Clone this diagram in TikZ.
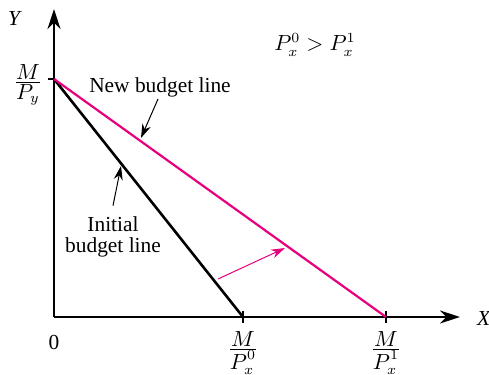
\documentclass[tikz,border=0pt]{standalone}
\usepackage{amsmath}
\usepackage{fontspec}
\setmainfont{Liberation Serif}
\usepackage{tikz}
\usetikzlibrary{arrows.meta, positioning}
\definecolor{budgetpink}{RGB}{230, 0, 126}
\newcommand{\ratio}[2]{\frac{\displaystyle #1}{\displaystyle #2}}

\begin{document}
\begin{tikzpicture}[
    x=0.5pt, y=-0.5pt,
    font=\fontsize{10.7}{12.5}\selectfont,
    axis/.style={line width=0.75pt, -{Stealth[length=10pt, width=6.5pt]}},
    oldline/.style={line width=1.3pt, black},
    newline/.style={line width=1.1pt, budgetpink},
    pointer/.style={line width=0.5pt, -{Stealth[length=7pt, width=4.5pt]}},
    tick/.style={line width=0.75pt}
]
\useasboundingbox (0,0) rectangle (489,375);

% axes
\coordinate (O) at (54, 317);
\coordinate (ytop) at (54, 9);
\coordinate (xend) at (460, 317);
\draw[axis] (O) -- (ytop);
\draw[axis] (O) -- (xend);

% intercepts
\coordinate (A) at (54, 79);
\coordinate (B0) at (243, 317);
\coordinate (B1) at (386, 317);
\draw[tick] (48, 79) -- (A);
\draw[tick] (243, 311) -- (243, 323);
\draw[tick] (386, 311) -- (386, 323);

% budget lines
\draw[oldline] (A) -- (B0);
\draw[newline] (A) -- (B1);

% labels
\node (ylbl) at (15, 18) {\textit{Y}};
\node (xlbl) at (484, 318) {\textit{X}};
\node (zero) at (54, 342) {0};
\node (Alb) at (28, 85) {$\ratio{M}{P_y}$};
\node (B0lb) at (243, 353) {$\ratio{M}{P_x^0}$};
\node (B1lb) at (386, 353) {$\ratio{M}{P_x^1}$};
\node (cond) at (315, 45) {$P_x^0 > P_x^1$};

\node (newlbl) at (160, 87) {New budget line};
\node[align=center] (oldlbl) at (113, 237) {Initial\\[-2pt]budget line};

% pointers
\coordinate (newtip) at (141, 138);
\coordinate (oldtip) at (121, 166);
\draw[pointer] (158, 99) -- (newtip);
\draw[pointer] (oldlbl.north) ++(0, -4) -- (oldtip);
\coordinate (shiftstart) at (218, 279);
\coordinate (shifttip) at (285, 248);
\draw[pointer, budgetpink] (shiftstart) -- (shifttip);
\end{tikzpicture}
\end{document}
